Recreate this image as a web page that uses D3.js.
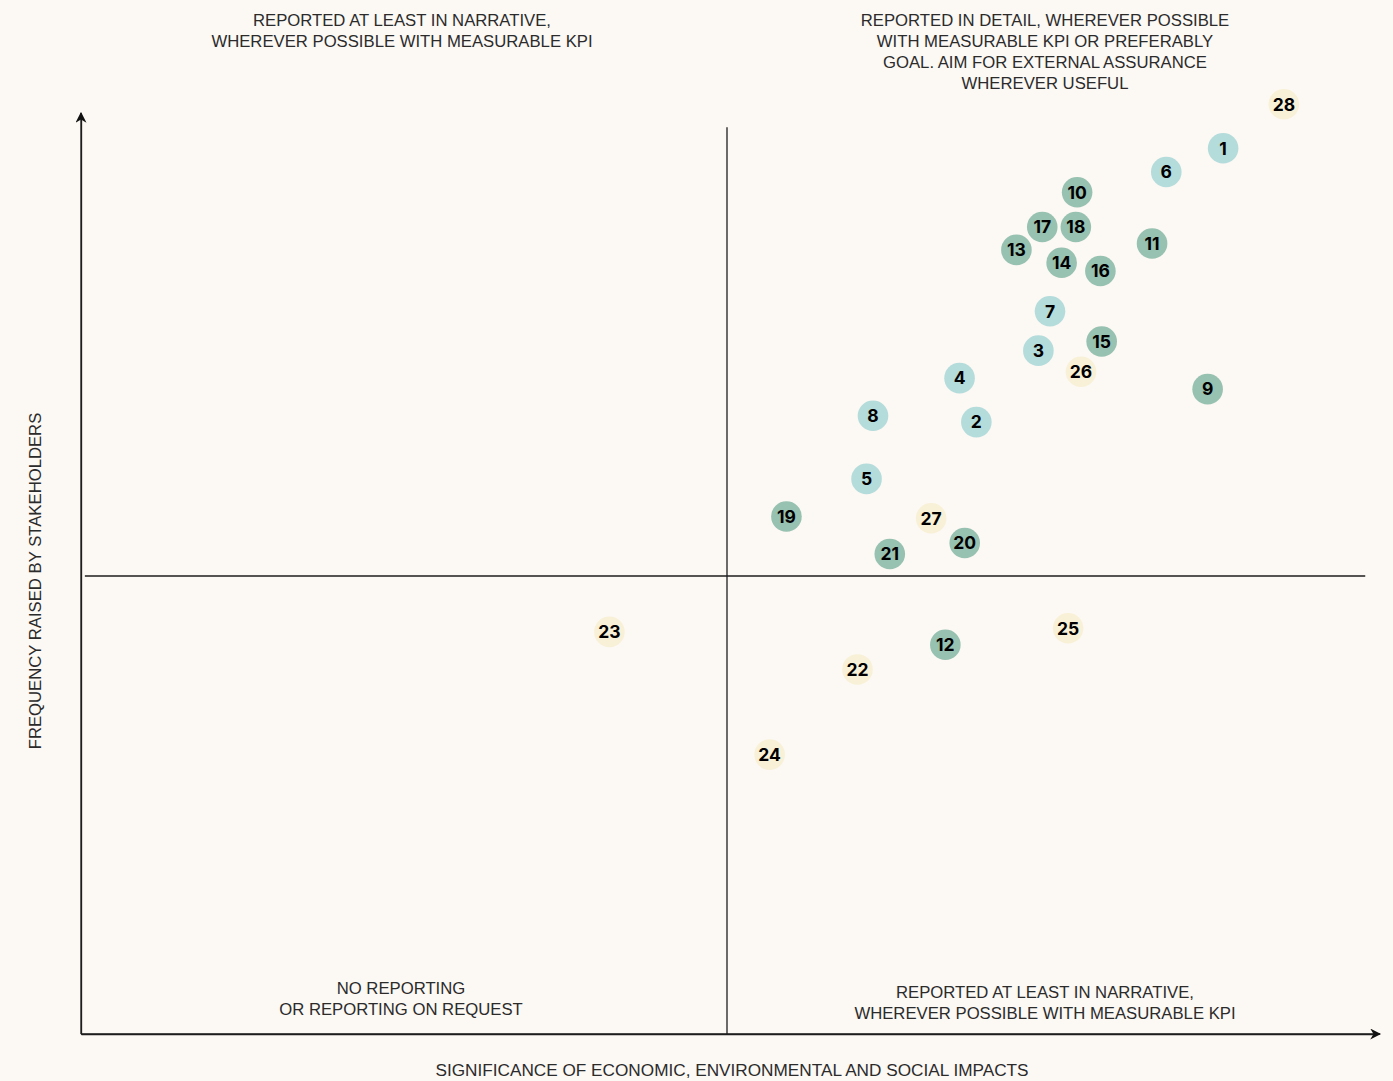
<!DOCTYPE html>
<html>
<head>
<meta charset="utf-8">
<script src="https://cdn.jsdelivr.net/npm/d3@7"></script>
<style>
html,body{margin:0;padding:0;background:#fcf8f4;}
svg{display:block;}
</style>
</head>
<body>
<svg id="chart" width="1393" height="1081"></svg>
<script>
// Topic ids, impact significance (x), stakeholder frequency (y), group
const ids    = [28, 1, 6, 10, 17, 18, 11, 13, 14, 16, 7, 15, 3, 26, 4, 9, 8, 2, 5, 19, 27, 20, 21, 23, 25, 12, 22, 24];
const xVals  = [9.31, 8.84, 8.40, 7.71, 7.44, 7.70, 8.29, 7.24, 7.59, 7.89, 7.50, 7.90, 7.41, 7.74, 6.80, 8.72, 6.13, 6.93, 6.08, 5.46, 6.58, 6.84, 6.26, 4.09, 7.64, 6.69, 6.01, 5.33];
const yVals  = [10.15, 9.67, 9.41, 9.19, 8.81, 8.81, 8.63, 8.56, 8.42, 8.33, 7.89, 7.56, 7.46, 7.23, 7.16, 7.04, 6.75, 6.68, 6.06, 5.65, 5.63, 5.36, 5.24, 4.39, 4.43, 4.25, 3.98, 3.05];
const groups = ["c", "b", "b", "g", "g", "g", "g", "g", "g", "g", "b", "g", "b", "c", "b", "g", "b", "b", "b", "g", "c", "g", "g", "c", "c", "g", "c", "c"];
const groupKeys = ["g", "b", "c"];
const groupColors = ["#97c1b1", "#b4dcdb", "#f8f1d7"];

const quadrantTitles = [
  {lines: ["REPORTED AT LEAST IN NARRATIVE,", "WHEREVER POSSIBLE WITH MEASURABLE KPI"], cx: 402, top: true},
  {lines: ["REPORTED IN DETAIL, WHEREVER POSSIBLE", "WITH MEASURABLE KPI OR PREFERABLY", "GOAL. AIM FOR EXTERNAL ASSURANCE", "WHEREVER USEFUL"], cx: 1045, top: true},
  {lines: ["NO REPORTING", "OR REPORTING ON REQUEST"], cx: 401, top: false, y0: 994},
  {lines: ["REPORTED AT LEAST IN NARRATIVE,", "WHEREVER POSSIBLE WITH MEASURABLE KPI"], cx: 1045, top: false, y0: 998}
];
const xTitle = "SIGNIFICANCE OF ECONOMIC, ENVIRONMENTAL AND SOCIAL IMPACTS";
const yTitle = "FREQUENCY RAISED BY STAKEHOLDERS";

const svg = d3.select("#chart");
const W = 1393, H = 1081;
svg.append("rect").attr("width", W).attr("height", H).attr("fill", "#fcf8f4");

const x = d3.scaleLinear().domain([0, 10]).range([81, 1373]);
const y = d3.scaleLinear().domain([0, 10]).range([1034, 118]);
const color = d3.scaleOrdinal().domain(groupKeys).range(groupColors);

const defs = svg.append("defs");
defs.append("marker").attr("id", "arrow")
  .attr("viewBox", "0 0 10 10").attr("refX", 9).attr("refY", 5)
  .attr("markerWidth", 11).attr("markerHeight", 11).attr("markerUnits", "userSpaceOnUse")
  .attr("orient", "auto")
  .append("path").attr("d", "M0,0 L10,5 L0,10 L3,5 Z").attr("fill", "#111");

const lineCol = "#1e1e1e";
const xAxis = d3.axisBottom(x).tickValues([]).tickSizeOuter(0);
const yAxis = d3.axisLeft(y).tickValues([]).tickSizeOuter(0);
svg.append("g").attr("transform", `translate(0,${y(0)})`).call(xAxis)
  .select(".domain").attr("stroke", lineCol).attr("stroke-width", 1.3);
svg.append("g").attr("transform", `translate(${x(0)},0)`).call(yAxis)
  .select(".domain").attr("stroke", lineCol).attr("stroke-width", 1.3);
svg.append("line").attr("x1", x(0)).attr("x2", x(10.055)).attr("y1", y(0)).attr("y2", y(0))
  .attr("stroke", lineCol).attr("stroke-width", 1.3).attr("marker-end", "url(#arrow)");
svg.append("line").attr("x1", x(0)).attr("x2", x(0)).attr("y1", y(0)).attr("y2", y(10.055))
  .attr("stroke", lineCol).attr("stroke-width", 1.3).attr("marker-end", "url(#arrow)");

svg.append("line").attr("x1", x(5)).attr("x2", x(5)).attr("y1", y(9.9)).attr("y2", y(0))
  .attr("stroke", lineCol).attr("stroke-width", 1.3);
svg.append("line").attr("x1", x(0.03)).attr("x2", x(9.94)).attr("y1", y(5)).attr("y2", y(5))
  .attr("stroke", lineCol).attr("stroke-width", 1.3);

const font = "'Liberation Sans', Arial, sans-serif";
const txtCol = "#2b2b2b";

quadrantTitles.forEach(q => {
  const lh = 21;
  const y0 = q.top ? 26 : q.y0;
  const t = svg.append("text").attr("x", q.cx).attr("y", y0)
    .attr("text-anchor", "middle").attr("font-family", font).attr("font-size", 16.7)
    .attr("fill", txtCol);
  q.lines.forEach((l, i) => t.append("tspan").attr("x", q.cx).attr("dy", i === 0 ? 0 : lh).text(l));
});

svg.append("text").attr("x", 732).attr("y", 1076).attr("text-anchor", "middle")
  .attr("font-family", font).attr("font-size", 17.2).attr("fill", txtCol).text(xTitle);
svg.append("text").attr("transform", `translate(41,${581}) rotate(-90)`).attr("text-anchor", "middle")
  .attr("font-family", font).attr("font-size", 16.7).attr("fill", txtCol).text(yTitle);

const data = ids.map((id, i) => ({id, x: xVals[i], y: yVals[i], g: groups[i]}));
const pts = svg.append("g").selectAll("g").data(data).join("g")
  .attr("transform", d => `translate(${x(d.x)},${y(d.y)})`);
pts.append("circle").attr("r", 15.3).attr("fill", d => color(d.g));
pts.append("text").attr("text-anchor", "middle").attr("dy", "0.36em")
  .attr("font-family", "Inter, 'Noto Sans', sans-serif").attr("font-weight", 700)
  .attr("font-size", 17.5).attr("fill", "#000").text(d => d.id);
</script>
</body>
</html>
